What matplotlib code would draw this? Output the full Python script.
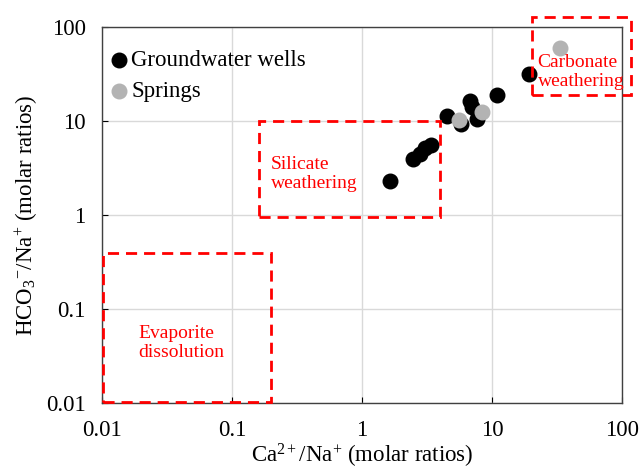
import matplotlib
matplotlib.use('Agg')
import matplotlib.pyplot as plt
from matplotlib.patches import Rectangle

plt.rcParams['font.family'] = ['Liberation Serif', 'DejaVu Serif']
plt.rcParams['mathtext.fontset'] = 'custom'
plt.rcParams['mathtext.rm'] = 'Liberation Serif'
plt.rcParams['mathtext.it'] = 'Liberation Serif:italic'

# Pozos (Ca/Na, HCO3/Na)
pozos_x = [1.64, 2.48, 2.79, 3.05, 3.37, 4.53, 5.74, 6.77, 6.98, 7.62, 10.9, 19.3]
pozos_y = [2.3, 3.9, 4.5, 5.1, 5.5, 11.2, 9.3, 16.2, 14.0, 10.6, 18.8, 31.5]

# Manantiales
manant_x = [5.6, 8.33, 33.3]
manant_y = [10.2, 12.6, 60.0]

# Cajas de los procesos (xmin, xmax, ymin, ymax, texto, posicion texto)
cajas = [
    (0.16, 4.0, 0.95, 10, 'Silicate\nweathering', (0.2, 2.7)),
    (0.0102, 0.2, 0.0103, 0.39, 'Evaporite\ndissolution', (0.019, 0.044)),
    (20.5, 118, 19, 126, 'Carbonate\nweathering', (22.5, 33)),
]

fig = plt.figure(figsize=(6.39, 4.72), dpi=100)
ax = fig.add_axes([0.16, 0.146, 0.813, 0.797])

ax.set_xscale('log')
ax.set_yscale('log')
ax.set_xlim(0.01, 100)
ax.set_ylim(0.01, 100)

ax.grid(True, which='major', color='#d9d9d9', linewidth=1)
ax.set_axisbelow(True)
ax.minorticks_off()

ax.scatter(pozos_x, pozos_y, s=110, color='black', label='Groundwater wells', zorder=3)
ax.scatter(manant_x, manant_y, s=110, color='#b3b3b3', label='Springs', zorder=4)

for x0, x1, y0, y1, texto, pos in cajas:
    r = Rectangle((x0, y0), x1 - x0, y1 - y0, fill=False, edgecolor='#ff0000',
                  linestyle=(0, (4, 2.5)), linewidth=2, clip_on=False, zorder=5)
    ax.add_patch(r)
    ax.text(pos[0], pos[1], texto, color='#ff0000', fontsize=14,
            ha='left', va='center', linespacing=1.15, zorder=6)

ticks = [0.01, 0.1, 1, 10, 100]
etiquetas = ['0.01', '0.1', '1', '10', '100']
ax.set_xticks(ticks)
ax.set_xticklabels(etiquetas)
ax.set_yticks(ticks)
ax.set_yticklabels(etiquetas)
ax.tick_params(which='major', direction='in', length=4, labelsize=16.5)
ax.tick_params(axis='x', pad=12)
ax.tick_params(axis='y', pad=12)

for s in ax.spines.values():
    s.set_color('#404040')
    s.set_linewidth(1)

ax.set_xlabel('Ca$^{2+}$/Na$^{+}$ (molar ratios)', fontsize=16.5, labelpad=1)
ax.set_ylabel('HCO$_3$$^{-}$/Na$^{+}$ (molar ratios)', fontsize=16.5, labelpad=4)

ax.legend(loc='upper left', bbox_to_anchor=(-0.01, 0.965), frameon=False,
          fontsize=16.5, handletextpad=0.05, borderaxespad=0.05,
          labelspacing=0.4, handlelength=1.0)

plt.savefig('out.png', dpi=100)
